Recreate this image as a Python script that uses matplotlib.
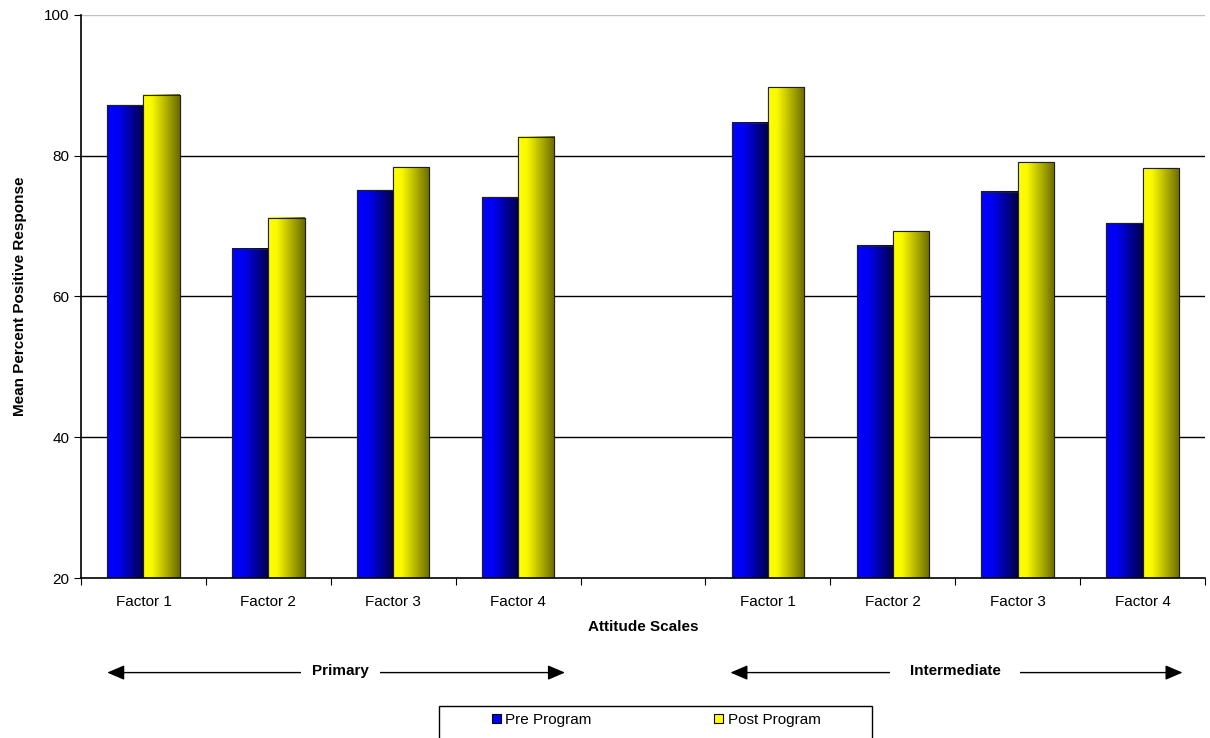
import matplotlib.pyplot as plt
import matplotlib.colors as mcolors
import numpy as np

plt.rcParams['font.family'] = ['Liberation Sans', 'DejaVu Sans']

categories = ["Factor 1", "Factor 2", "Factor 3", "Factor 4", "",
              "Factor 1", "Factor 2", "Factor 3", "Factor 4"]
pre = [87.2, 66.8, 75.1, 74.1, np.nan, 84.7, 67.2, 74.9, 70.4]
post = [88.7, 71.2, 78.4, 82.7, np.nan, 89.7, 69.3, 79.1, 78.2]
groups = ["Primary", "Intermediate"]

fig = plt.figure(figsize=(12.1, 7.38), dpi=100)
ax = fig.add_axes([81/1210, 1 - 578/738, 1124/1210, 563/738])

ymin, ymax = 20, 100
x = np.arange(len(categories))
w = 0.29
blue_cmap = mcolors.LinearSegmentedColormap.from_list(
    "b", [(0, "#0000ff"), (0.3, "#0000f4"), (1, "#000048")])
yel_cmap = mcolors.LinearSegmentedColormap.from_list(
    "y", [(0, "#ffff00"), (0.25, "#f8f800"), (1, "#6a6a00")])
grad = np.linspace(0, 1, 64).reshape(1, -1)

b1 = ax.bar(x - w/2, pre, w, color="#0000ff", edgecolor="#202020", linewidth=0.8, zorder=3)
b2 = ax.bar(x + w/2, post, w, color="#ffff00", edgecolor="#202020", linewidth=0.8, zorder=3)
for bars, cm in ((b1, blue_cmap), (b2, yel_cmap)):
    for r in bars:
        h = r.get_height()
        if np.isnan(h):
            continue
        x0 = r.get_x()
        ax.imshow(grad, cmap=cm, aspect="auto", zorder=3.5,
                  extent=[x0, x0 + r.get_width(), ymin, h])
        ax.add_patch(plt.Rectangle((x0, ymin), r.get_width(), h - ymin,
                                   fill=False, edgecolor="#202020", linewidth=0.8, zorder=4))

ax.set_xlim(-0.5, len(categories) - 0.5)
ax.set_ylim(ymin, ymax)
ax.set_yticks([20, 40, 60, 80, 100])
for v in [40, 60, 80]:
    ax.axhline(v, color="black", linewidth=1, zorder=1)
ax.axhline(100, color="#c0c0c0", linewidth=1, zorder=1)
ax.spines["top"].set_visible(False)
ax.spines["right"].set_visible(False)
ax.spines["left"].set_linewidth(1.2)
ax.spines["bottom"].set_linewidth(1.2)
ax.spines["left"].set_zorder(5)
ax.spines["bottom"].set_zorder(5)

ax.set_xticks(np.arange(len(categories) + 1) - 0.5)
ax.set_xticklabels([])
ax.set_xticks(x, minor=True)
ax.set_xticklabels(categories, minor=True, fontsize=11)
ax.tick_params(axis="x", which="minor", length=0, pad=12)
ax.tick_params(axis="x", which="major", length=5, direction="out")
ax.tick_params(axis="y", length=5, labelsize=11)

ax.set_xlabel("Attitude Scales", fontsize=11, fontweight="bold", labelpad=8)
ax.set_ylabel("Mean Percent Positive Response", fontsize=11, fontweight="bold", labelpad=12)

# group arrows below the axis
tr = ax.get_xaxis_transform()
arrow_y = -0.168
spans = [(-0.29, 3.375), (4.7, 8.32)]
text_x = [1.58, 6.5]
for (a, b), tx, g in zip(spans, text_x, groups):
    ax.annotate("", xy=(a, arrow_y), xytext=(b, arrow_y), xycoords=tr, textcoords=tr,
                arrowprops=dict(arrowstyle="<|-|>,head_length=0.7,head_width=0.3",
                                color="black", lw=1, mutation_scale=15,
                                shrinkA=0, shrinkB=0),
                annotation_clip=False)
    ax.text(tx, arrow_y + 0.003, g, transform=tr, ha="center", va="center",
            fontsize=11, fontweight="bold", clip_on=False,
            bbox=dict(facecolor="white", edgecolor="none", pad=8 if g == "Primary" else 14))

# legend frame drawn separately so the entries can sit spaced apart inside it
fig.patches.append(plt.Rectangle((439/1210, -0.01), 433/1210, 1 - 706/738 + 0.01,
                                 transform=fig.transFigure, fill=False,
                                 edgecolor="black", linewidth=1))
leg = fig.legend([b1, b2], ["Pre Program", "Post Program"], ncol=2,
                 loc="center", bbox_to_anchor=(656/1210, 1 - 720/738),
                 frameon=False, fontsize=11, handlelength=0.6, handleheight=0.6,
                 handletextpad=0.3, columnspacing=8.0)
for hnd in leg.legend_handles:
    hnd.set_edgecolor("black")

fig.savefig("out.png", dpi=100)
